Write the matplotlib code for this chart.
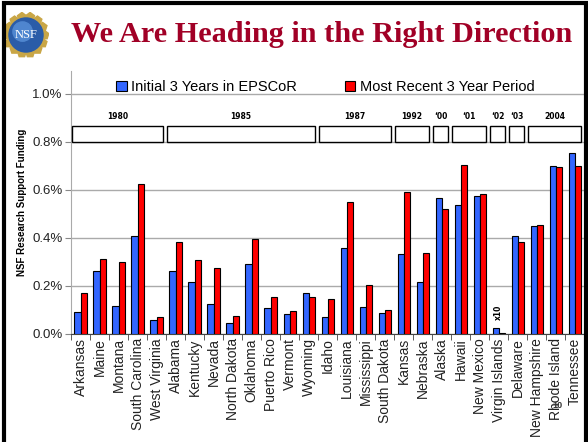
import numpy as np
import matplotlib
matplotlib.use("Agg")
import matplotlib.pyplot as plt
from matplotlib.patches import Rectangle, Circle, RegularPolygon

plt.rcParams['font.family'] = ['Liberation Sans', 'DejaVu Sans']

# data (percent of NSF research support funding)
states = ["Arkansas", "Maine", "Montana", "South Carolina", "West Virginia",
          "Alabama", "Kentucky", "Nevada", "North Dakota", "Oklahoma",
          "Puerto Rico", "Vermont", "Wyoming", "Idaho", "Louisiana",
          "Mississippi", "South Dakota", "Kansas", "Nebraska", "Alaska",
          "Hawaii", "New Mexico", "Virgin Islands", "Delaware",
          "New Hampshire", "Rhode Island", "Tennessee"]
initial = [0.091, 0.264, 0.116, 0.410, 0.059,
           0.261, 0.215, 0.123, 0.046, 0.292,
           0.109, 0.084, 0.171, 0.069, 0.358,
           0.114, 0.087, 0.333, 0.215, 0.568,
           0.539, 0.575, 0.025, 0.407,
           0.450, 0.701, 0.755]
recent = [0.171, 0.312, 0.300, 0.623, 0.072,
          0.381, 0.307, 0.274, 0.076, 0.396,
          0.156, 0.097, 0.156, 0.147, 0.550,
          0.205, 0.101, 0.591, 0.337, 0.519,
          0.704, 0.584, 0.006, 0.381,
          0.455, 0.697, 0.699]
entry_years = ["1980", "1985", "1987", "1992", "\u201800", "\u201801",
               "\u201802", "\u201803", "2004"]
group_sizes = [5, 8, 4, 2, 1, 2, 1, 1, 3]

fig = plt.figure(figsize=(5.88, 4.42), dpi=100)

# slide border
fig.patches.append(Rectangle((4 / 588, -0.05), 582 / 588, 1.0 - 3 / 442 + 0.05,
                             transform=fig.transFigure, fill=False,
                             edgecolor="black", linewidth=3))

# title
fig.text(322 / 588, 1 - 34 / 442, "We Are Heading in the Right Direction",
         family="Liberation Serif", fontweight="bold", fontsize=21.8,
         color="#A10026", ha="center", va="center")

# NSF logo (simple drawing)
lax = fig.add_axes([3 / 588, 1 - 58 / 442, 46 / 588, 46 / 442])
lax.set_xlim(-1, 1)
lax.set_ylim(-1, 1)
lax.set_aspect("equal")
lax.axis("off")
for ang in np.linspace(0, 2 * np.pi, 14, endpoint=False):
    lax.add_patch(RegularPolygon((0.8 * np.cos(ang), 0.8 * np.sin(ang)), 5,
                                 radius=0.2, color="#C9A646"))
lax.add_patch(Circle((0, 0), 0.74, color="#2A5CA8"))
lax.add_patch(Circle((-0.15, 0.15), 0.42, color="#4F86CF"))
lax.text(0, -0.02, "NSF", family="Liberation Serif", fontsize=9,
         color="white", ha="center", va="center")

ax = fig.add_axes([71 / 588, 108 / 442, 517 / 588, 263 / 442])
x = np.arange(len(states))
w = 0.32
ax.bar(x - w / 2, initial, w, color="#3366FF", edgecolor="black",
       linewidth=0.8, label="Initial 3 Years in EPSCoR", zorder=3)
ax.bar(x + w / 2, recent, w, color="#FF0000", edgecolor="black",
       linewidth=0.8, label="Most Recent 3 Year Period", zorder=3)

ax.set_xlim(-0.5, 26.7)
ax.set_ylim(0, 1.095)
ax.set_yticks([0, 0.2, 0.4, 0.6, 0.8, 1.0])
ax.set_yticklabels(["0.0%", "0.2%", "0.4%", "0.6%", "0.8%", "1.0%"],
                   fontsize=9.5, color="#222222")
ax.set_xticks(x)
ax.set_xticklabels(states, rotation=90, fontsize=10, color="#222222")
ax.set_xticks(np.arange(-0.5, 26.6, 1), minor=True)
ax.tick_params(axis="x", which="major", length=0, pad=3)
ax.tick_params(axis="x", which="minor", length=4, color="#444444")
ax.tick_params(axis="y", length=4, color="#888888", pad=2)
ax.yaxis.grid(True, color="#AAAAAA", linewidth=1, zorder=0)
ax.set_axisbelow(True)
for s in ["top", "right"]:
    ax.spines[s].set_visible(False)
ax.spines["left"].set_color("#AAAAAA")
ax.spines["bottom"].set_color("#444444")
ax.set_ylabel("NSF Research Support Funding", fontsize=7, fontweight="bold",
              labelpad=4)

# entry-year brackets
start = 0
for year, n in zip(entry_years, group_sizes):
    x0 = start - 0.5 + 0.05
    x1 = start + n - 0.5 - 0.17
    ax.add_patch(Rectangle((x0, 0.8), x1 - x0, 0.064, facecolor="white",
                           edgecolor="black", linewidth=1, zorder=4))
    ax.text((x0 + x1) / 2, 0.905, year, fontsize=5.5, fontweight="bold",
            ha="center", va="center", family="DejaVu Sans")
    start += n

ax.text(22, 0.092, "x10", rotation=90, fontsize=5.5, fontweight="bold",
        ha="center", va="center", family="DejaVu Sans")

leg = ax.legend(loc="upper center", bbox_to_anchor=(0.492, 1.0), ncol=2,
                fontsize=10.5, frameon=False, handlelength=0.7,
                handleheight=0.7, columnspacing=3.3, handletextpad=0.3,
                borderaxespad=0.2)

fig.text(557 / 588, 1 - 405 / 442, "10", fontsize=6.5, fontweight="bold",
         color="#333333", ha="center", va="center")

fig.savefig("out.png", dpi=100)
